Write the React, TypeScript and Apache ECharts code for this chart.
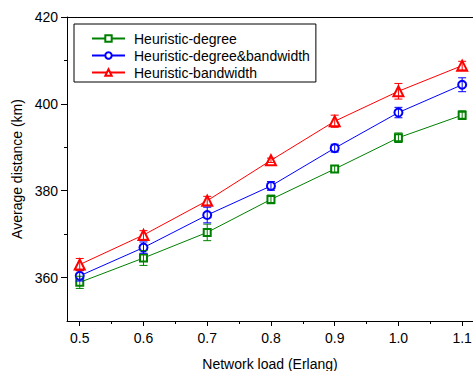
import React, { useEffect, useRef } from "react";
import * as echarts from "echarts";

const loads = [0.5, 0.6, 0.7, 0.8, 0.9, 1.0, 1.1];
const degree = [358.9, 364.5, 370.4, 378.0, 385.0, 392.2, 397.4];
const degreeErr = [1.4, 1.7, 1.9, 1.0, 0.8, 1.1, 1.0];
const degBw = [360.4, 366.9, 374.4, 381.1, 389.8, 398.0, 404.4];
const degBwErr = [1.2, 1.3, 1.8, 1.0, 0.9, 1.2, 1.6];
const bandwidth = [363.0, 369.8, 377.7, 387.0, 396.0, 402.9, 408.8];
const bandwidthErr = [1.4, 1.0, 1.0, 0.5, 1.4, 1.8, 1.0];
const seriesNames = ["Heuristic-degree", "Heuristic-degree&bandwidth", "Heuristic-bandwidth"];
const colors = ["#008000", "#0000ff", "#ff0000"];
const symbols = ["emptyRect", "emptyCircle", "emptyTriangle"];
const xTicks = [0.5, 0.6, 0.7, 0.8, 0.9, 1.0, 1.1];
const xMinorTicks = [0.55, 0.65, 0.75, 0.85, 0.95, 1.05];
const yTicks = [360, 380, 400, 420];
const yMinorTicks = [370, 390, 410];

const FONT = "'Liberation Sans', Arial, sans-serif";

export default function App() {
  const ref = useRef<HTMLDivElement>(null);
  useEffect(() => {
    const chart = echarts.init(ref.current!, null, { renderer: "svg" });
    const vals = [degree, degBw, bandwidth];
    const errs = [degreeErr, degBwErr, bandwidthErr];
    const lineSeries = vals.map((v, i) => ({
      name: seriesNames[i],
      type: "line",
      xAxisIndex: 0,
      yAxisIndex: 0,
      data: loads.map((x, j) => [x, v[j]]),
      symbol: symbols[i],
      symbolSize: i === 0 ? 7 : i === 1 ? 8 : 10,
      lineStyle: { color: colors[i], width: 1 },
      itemStyle: { color: colors[i], borderWidth: 1 },
      z: 3,
    }));
    const errSeries = vals.map((v, i) => ({
      name: seriesNames[i] + "-err",
      type: "custom",
      xAxisIndex: 0,
      yAxisIndex: 0,
      data: loads.map((x, j) => [x, v[j], errs[i][j]]),
      z: 4,
      renderItem: (params: any, api: any) => {
        const x = api.value(0);
        const y = api.value(1);
        const e = api.value(2);
        const top = api.coord([x, y + e]);
        const bot = api.coord([x, y - e]);
        const w = 4;
        const style = { stroke: colors[i], lineWidth: 1 };
        return {
          type: "group",
          children: [
            { type: "line", shape: { x1: top[0], y1: top[1], x2: bot[0], y2: bot[1] }, style },
            { type: "line", shape: { x1: top[0] - w, y1: top[1], x2: top[0] + w, y2: top[1] }, style },
            { type: "line", shape: { x1: bot[0] - w, y1: bot[1], x2: bot[0] + w, y2: bot[1] }, style },
          ],
        };
      },
    }));
    chart.setOption({
      animation: false,
      backgroundColor: "#fff",
      textStyle: { fontFamily: FONT },
      grid: { left: 67, right: 0, top: 17, bottom: 50, outerBoundsMode: "none", containLabel: false },
      legend: {
        data: seriesNames,
        orient: "vertical",
        left: 74,
        top: 24,
        padding: [6, 6, 1, 17],
        itemGap: 0,
        itemWidth: 33,
        itemHeight: 8,
        borderColor: "#000",
        borderWidth: 1,
        borderRadius: 0,
        backgroundColor: "#fff",
        textStyle: { fontSize: 14, color: "#000", fontFamily: FONT, lineHeight: 17, padding: [0, 0, 0, 4] },
      },
      xAxis: [
        {
          type: "value",
          min: 0.48,
          max: 1.117,
          position: "bottom",
          name: "Network load (Erlang)",
          nameLocation: "middle",
          nameGap: 36,
          nameTextStyle: { fontSize: 14, color: "#000", fontFamily: FONT },
          axisLine: { show: true, lineStyle: { color: "#000", width: 1 } },
          axisTick: { show: true, length: 5, customValues: xTicks, lineStyle: { color: "#000" } },
          axisLabel: {
            customValues: xTicks,
            fontSize: 14,
            color: "#000",
            margin: 10,
            fontFamily: FONT,
            formatter: (v: number) => v.toFixed(1),
          },
          splitLine: { show: false },
        },
        {
          type: "value",
          min: 0.48,
          max: 1.117,
          position: "bottom",
          axisLine: { show: false },
          axisTick: { show: true, length: 3, customValues: xMinorTicks, lineStyle: { color: "#000" } },
          axisLabel: { show: false },
          splitLine: { show: false },
        },
        {
          type: "value",
          min: 0.48,
          max: 1.117,
          position: "top",
          axisLine: { show: true, lineStyle: { color: "#000", width: 1 } },
          axisTick: { show: false },
          axisLabel: { show: false },
          splitLine: { show: false },
        },
      ],
      yAxis: [
        {
          type: "value",
          min: 350,
          max: 420,
          position: "left",
          name: "Average distance (km)",
          nameLocation: "middle",
          nameGap: 42,
          nameTextStyle: { fontSize: 14, color: "#000", fontFamily: FONT },
          axisLine: { show: true, lineStyle: { color: "#000", width: 1 } },
          axisTick: { show: true, length: 6, customValues: yTicks, lineStyle: { color: "#000" } },
          axisLabel: { customValues: yTicks, fontSize: 14, color: "#000", margin: 9, fontFamily: FONT },
          splitLine: { show: false },
        },
        {
          type: "value",
          min: 350,
          max: 420,
          position: "left",
          axisLine: { show: false },
          axisTick: { show: true, length: 3, customValues: yMinorTicks, lineStyle: { color: "#000" } },
          axisLabel: { show: false },
          splitLine: { show: false },
        },
      ],
      series: [...lineSeries, ...errSeries],
    });
    return () => chart.dispose();
  }, []);
  return <div ref={ref} style={{ width: 473, height: 371, position: "absolute", left: 0, top: 0 }} />;
}
